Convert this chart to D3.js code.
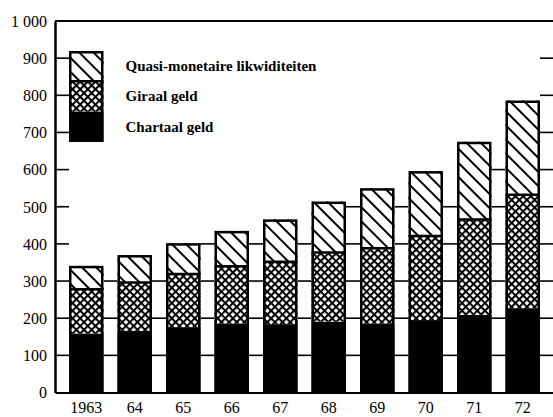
<!DOCTYPE html>
<html>
<head>
<meta charset="utf-8">
<script src="https://cdn.jsdelivr.net/npm/d3@7"></script>
<style>
  body { margin: 0; background: #fff; overflow: hidden; }
  svg { display: block; }
  text { font-family: "Liberation Serif", "DejaVu Serif", serif; fill: #000; }
</style>
</head>
<body>
<div id="chart"></div>
<script>
// values (guilders, billions)
const years = ["1963", "64", "65", "66", "67", "68", "69", "70", "71", "72"];
const chartaal = [159, 166, 176, 186, 184, 191, 186, 195, 209, 227];
const giraal = [119, 130, 143, 154, 168, 186, 202, 226, 257, 305];
const quasi = [63, 74, 83, 95, 114, 137, 162, 175, 209, 254];
const yTicks = [0, 100, 200, 300, 400, 500, 600, 700, 800, 900, 1000];
const yTickLabels = ["0", "100", "200", "300", "400", "500", "600", "700", "800", "900", "1 000"];
const seriesKeys = ["chartaal", "giraal", "quasi"];
const seriesNames = ["Chartaal geld", "Giraal geld", "Quasi-monetaire likwiditeiten"];

const width = 553, height = 417;
const margin = {top: 21, right: -1, bottom: 24.5, left: 55};

const data = years.map((yr, i) => ({year: yr, chartaal: chartaal[i], giraal: giraal[i], quasi: quasi[i]}));
const totals = data.map(d => d.chartaal + d.giraal + d.quasi);

const svg = d3.select("#chart").append("svg")
    .attr("width", width)
    .attr("height", height);

const x = d3.scaleBand()
    .domain(years)
    .range([margin.left, width - margin.right])
    .paddingInner(0.289)
    .paddingOuter(0.289);

const y = d3.scaleLinear()
    .domain([0, 1000])
    .range([height - margin.bottom, margin.top]);

// patterns
const defs = svg.append("defs");
const hatch = defs.append("pattern")
    .attr("id", "hatch")
    .attr("patternUnits", "userSpaceOnUse")
    .attr("width", 10).attr("height", 10)
    .attr("patternTransform", "rotate(45)");
hatch.append("rect").attr("width", 10).attr("height", 10).attr("fill", "#fff");
hatch.append("rect").attr("width", 10).attr("height", 2).attr("fill", "#000");

const cs = 5.4, cw = 2;
const cross = defs.append("pattern")
    .attr("id", "cross")
    .attr("patternUnits", "userSpaceOnUse")
    .attr("width", cs).attr("height", cs)
    .attr("patternTransform", "rotate(45)");
cross.append("rect").attr("width", cs).attr("height", cs).attr("fill", "#fff");
cross.append("rect").attr("width", cs).attr("height", cw).attr("fill", "#000");
cross.append("rect").attr("width", cw).attr("height", cs).attr("fill", "#000");

const fills = {chartaal: "#000", giraal: "url(#cross)", quasi: "url(#hatch)"};

// gridline pieces: only in the gaps, and only below the lower of the two neighbour bars
const bw = x.bandwidth();
const gaps = d3.range(years.length + 1).map(j => {
    const x0 = j === 0 ? x.range()[0] : x(years[j - 1]) + bw;
    const x1 = j === years.length ? x.range()[1] : x(years[j]);
    const lim = (j === 0 || j === years.length) ? Infinity : Math.min(totals[j - 1], totals[j]);
    return {x0, x1, lim};
});
const gridPieces = [];
yTicks.slice(1, -1).forEach(v => {
    gaps.forEach(g => { if (v < g.lim) gridPieces.push({v, x0: g.x0, x1: g.x1}); });
});
svg.append("g")
    .selectAll("line")
    .data(gridPieces)
    .join("line")
    .attr("x1", d => d.x0)
    .attr("x2", d => d.x1)
    .attr("y1", d => y(d.v))
    .attr("y2", d => y(d.v))
    .attr("stroke", "#000")
    .attr("stroke-width", 1.6);

// stacked bars
const stack = d3.stack().keys(seriesKeys)(data);
svg.append("g")
    .selectAll("g")
    .data(stack)
    .join("g")
    .attr("fill", d => fills[d.key])
    .selectAll("rect")
    .data(d => d)
    .join("rect")
    .attr("x", d => x(d.data.year))
    .attr("width", bw)
    .attr("y", d => y(d[1]))
    .attr("height", d => y(d[0]) - y(d[1]));

// boundary between giraal and quasi
svg.append("g")
    .selectAll("line")
    .data(data)
    .join("line")
    .attr("x1", d => x(d.year))
    .attr("x2", d => x(d.year) + bw)
    .attr("y1", d => y(d.chartaal + d.giraal))
    .attr("y2", d => y(d.chartaal + d.giraal))
    .attr("stroke", "#000")
    .attr("stroke-width", 2.5);

// bar outlines
svg.append("g")
    .selectAll("rect")
    .data(data)
    .join("rect")
    .attr("x", d => x(d.year) + 1.25)
    .attr("width", bw - 2.5)
    .attr("y", (d, i) => y(totals[i]) + 1.25)
    .attr("height", (d, i) => y(0) - y(totals[i]) - 1.25)
    .attr("fill", "none")
    .attr("stroke", "#000")
    .attr("stroke-width", 2.5);

// frame: top line
svg.append("line")
    .attr("x1", margin.left).attr("x2", width - margin.right)
    .attr("y1", y(1000)).attr("y2", y(1000))
    .attr("stroke", "#000").attr("stroke-width", 2);

// axes
const yAxis = d3.axisLeft(y)
    .tickValues(yTicks)
    .tickFormat((d, i) => yTickLabels[i])
    .tickSize(0)
    .tickPadding(8);
const gy = svg.append("g")
    .attr("transform", `translate(${margin.left},0)`)
    .call(yAxis);
gy.select(".domain").attr("stroke", "#000").attr("stroke-width", 2.5);
gy.selectAll("text")
    .attr("font-family", "Liberation Serif")
    .attr("font-size", 16)
    .attr("dy", "0.33em");

const xAxis = d3.axisBottom(x).tickSize(0).tickPadding(9);
const gx = svg.append("g")
    .attr("transform", `translate(0,${y(0)})`)
    .call(xAxis);
gx.select(".domain").attr("stroke", "#000").attr("stroke-width", 2);
gx.selectAll("text")
    .attr("font-family", "Liberation Serif")
    .attr("font-size", 16);

// legend, drawn in the first column like a small bar
const legendTop = 51, legendRow = 30.3;
const legendItems = seriesKeys.slice().reverse();
const lx = x(years[0]);
const legend = svg.append("g");
legend.selectAll("rect.swatch")
    .data(legendItems)
    .join("rect")
    .attr("class", "swatch")
    .attr("x", lx)
    .attr("width", bw)
    .attr("y", (d, i) => legendTop + i * legendRow)
    .attr("height", legendRow)
    .attr("fill", d => fills[d]);
legend.append("line")
    .attr("x1", lx).attr("x2", lx + bw)
    .attr("y1", legendTop + legendRow).attr("y2", legendTop + legendRow)
    .attr("stroke", "#000").attr("stroke-width", 2.5);
legend.append("rect")
    .attr("x", lx + 1.25)
    .attr("width", bw - 2.5)
    .attr("y", legendTop + 1.25)
    .attr("height", legendRow * 3 - 2.5)
    .attr("fill", "none")
    .attr("stroke", "#000")
    .attr("stroke-width", 2.5);
legend.selectAll("text")
    .data(legendItems)
    .join("text")
    .attr("x", lx + bw + 22)
    .attr("y", (d, i) => legendTop + i * legendRow + legendRow / 2 + 5)
    .attr("font-size", 15)
    .attr("font-weight", "bold")
    .text(d => seriesNames[seriesKeys.indexOf(d)]);
</script>
</body>
</html>
